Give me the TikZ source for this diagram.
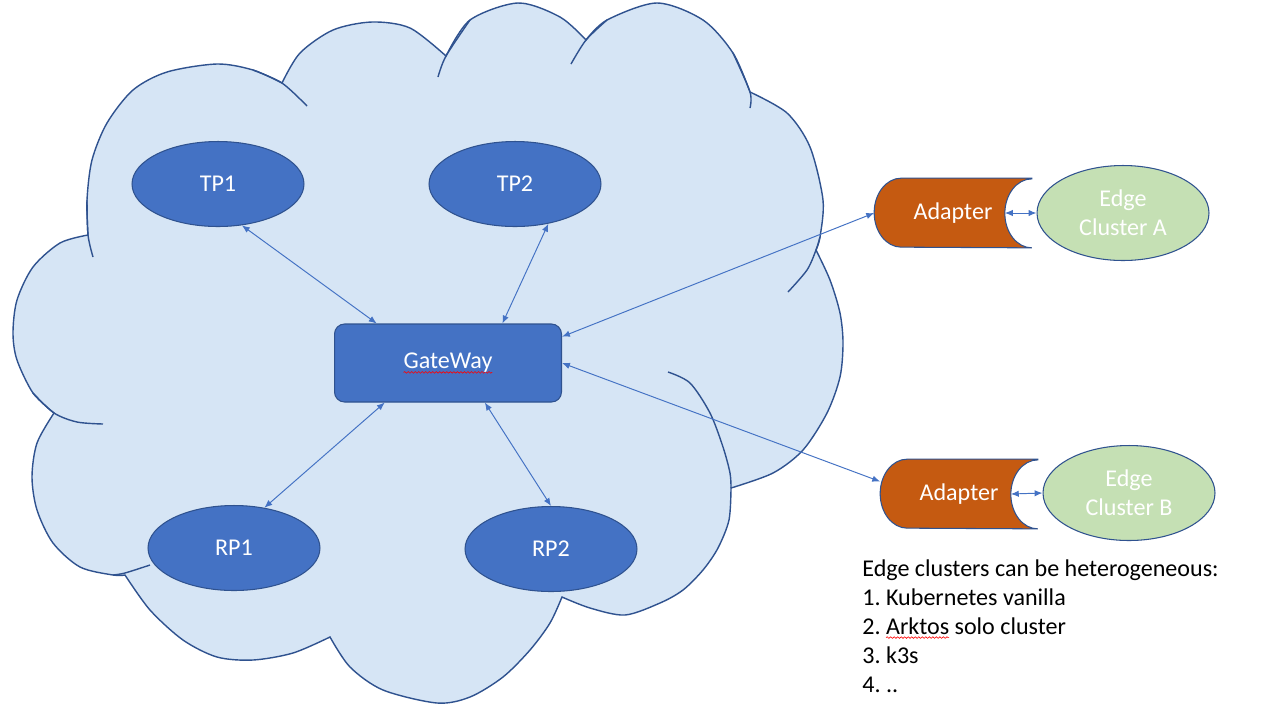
\documentclass[tikz,border=0pt]{standalone}
\usepackage{fontspec}
\setmainfont{Carlito}
\usetikzlibrary{arrows.meta,shapes.geometric,backgrounds,decorations.pathmorphing}
\frenchspacing

\definecolor{nodeblue}{RGB}{68,114,196}
\definecolor{lineblue}{RGB}{47,82,143}
\definecolor{adapterorange}{RGB}{197,90,17}
\definecolor{edgegreen}{RGB}{197,224,180}
\definecolor{cloudblue}{RGB}{214,229,245}

\newlength{\spellwd}
\newcommand{\spellmark}[1]{\settowidth{\spellwd}{#1}%
  \rlap{\tikz[overlay]\draw[red, sharp corners, line width=0.35pt, decorate,
    decoration={snake, amplitude=0.45pt, segment length=2pt}]
    (0,-0.07cm) -- (\spellwd,-0.07cm);}#1}

\begin{document}
\begin{tikzpicture}[>={Latex[length=4.5pt,width=3.6pt]}, x=0.02cm, y=-0.02cm,
  every node/.style={font=\fontsize{13.7}{16.5}\selectfont},
  proc/.style={ellipse, draw=lineblue, fill=nodeblue, text=white, line width=0.6pt,
    minimum width=3.44cm, minimum height=1.7cm, inner sep=0pt},
  gate/.style={rectangle, rounded corners=0.2cm, draw=lineblue, fill=nodeblue,
    text=white, line width=0.6pt, minimum width=4.54cm, minimum height=1.56cm},
  adapter/.style={rectangle, minimum width=3.14cm, minimum height=1.38cm,
    inner sep=0pt, text=white},
  adapterfill/.style={fill=adapterorange, draw=lineblue, line width=0.6pt},
  cluster/.style={ellipse, draw=lineblue, fill=edgegreen, text=white, line width=0.6pt,
    minimum width=3.44cm, minimum height=1.9cm, inner sep=0pt, align=center},
  link/.style={<->, draw=nodeblue, line width=0.55pt},
  cloud/.style={fill=cloudblue, draw=lineblue, line width=0.8pt},
  cloudline/.style={draw=lineblue, line width=0.8pt},
  note/.style={align=left, inner sep=0pt, text=black}]

\useasboundingbox (0,0) rectangle (1267,718);

% The cloud: one bump after the other, clockwise from the left
\filldraw[cloud]
  plot[smooth] coordinates {(88,235) (87,200) (92,160) (107,123) (133,90) (167,72) (217,64) (253,70) (282,83)}
  -- plot[smooth] coordinates {(282,83) (300,53) (333,30) (372,22) (410,28) (446,56)}
  -- plot[smooth] coordinates {(446,56) (470,20) (518,3) (560,17) (586,40)}
  -- plot[smooth] coordinates {(586,40) (607,20) (657,3) (703,20) (733,53) (750,92)}
  -- plot[smooth] coordinates {(750,92) (787,113) (810,147) (823,200) (820,237) (816,250)}
  -- plot[smooth] coordinates {(816,250) (830,280) (840,313) (843,343) (840,377) (827,413) (803,450) (773,473) (731,488)}
  -- plot[smooth] coordinates {(731,488) (729,520) (718,548) (703,570) (683,590) (660,603) (625,615) (590,608) (562,597)}
  -- plot[smooth] coordinates {(562,597) (550,623) (530,650) (503,677) (470,697) (437,703) (383,690) (350,667) (330,637)}
  -- plot[smooth] coordinates {(330,637) (293,653) (253,660) (217,657) (183,640) (150,610) (125,575)}
  -- plot[smooth] coordinates {(125,575) (113,575) (80,567) (53,543) (37,510) (32,477) (37,443) (54,413)}
  -- plot[smooth] coordinates {(54,413) (33,393) (17,360) (13,333) (17,300) (33,267) (60,243) (88,235)}
  -- cycle;

% Inner ends of the bumps
\draw[cloudline] plot[smooth] coordinates {(87,200) (88,235) (93,257)};
\draw[cloudline] plot[smooth] coordinates {(253,70) (282,83) (307,106)};
\draw[cloudline] plot[smooth] coordinates {(470,20) (446,56) (438,77)};
\draw[cloudline] plot[smooth] coordinates {(607,20) (586,40) (571,64)};
\draw[cloudline] plot[smooth] coordinates {(733,53) (750,92) (750,108)};
\draw[cloudline] plot[smooth] coordinates {(820,237) (816,250) (807,270) (788,292)};
\draw[cloudline] plot[smooth] coordinates {(668,372) (690,383) (710,413) (723,447) (730,473) (731,488)};
\draw[cloudline] plot[smooth] coordinates {(150,565) (125,573) (113,575)};
\draw[cloudline] plot[smooth] coordinates {(33,393) (54,413) (77,422) (103,424)};

% Nodes inside the cloud
\node[proc] (tp1) at (218,184) {TP1};
\node[proc] (tp2) at (515,184) {TP2};
\node[proc] (rp1) at (234,548) {RP1};
\node[proc] (rp2) at (551,549) {RP2};
\node[gate] (gw) at (448,363) {\spellmark{GateWay}};

% Adapters and edge clusters
\node[adapter] (ada) at (953,213) {Adapter};
\node[adapter] (adb) at (959,494) {Adapter};
\node[cluster] (eca) at (1123,213) {Edge\\Cluster A};
\node[cluster] (ecb) at (1129,493) {Edge\\Cluster B};

\begin{scope}[on background layer]
  \fill[white] (0,0) rectangle (1267,718);
  \foreach \n in {ada, adb} {
    \filldraw[adapterfill] (\n.north east) -- ([xshift=0.54cm]\n.north west)
      arc[start angle=90, end angle=270, x radius=0.54cm, y radius=0.69cm]
      -- (\n.south east)
      arc[start angle=270, end angle=90, x radius=0.54cm, y radius=0.69cm] -- cycle;
  }
\end{scope}

% Links
\draw[link] (tp1.-60) -- (gw.151);
\draw[link] (tp2.-50) -- (gw.36);
\draw[link] (rp1.53) -- (gw.-148);
\draw[link] (rp2.north) -- (gw.-47);
\draw[link] (gw.13) -- (ada.west);
\draw[link] (gw.east) -- (adb.171);
\draw[link] ([xshift=-0.54cm]ada.east) -- (eca.west);
\draw[link] ([xshift=-0.54cm]adb.east) -- (ecb.west);

% Note on the clusters
\node[note, anchor=north west] (note) at (862,559) {Edge clusters can be heterogeneous:\\
  1. Kubernetes vanilla\\ 2. \spellmark{Arktos} solo cluster\\ 3. k3s\\ 4. ..};

\end{tikzpicture}
\end{document}
